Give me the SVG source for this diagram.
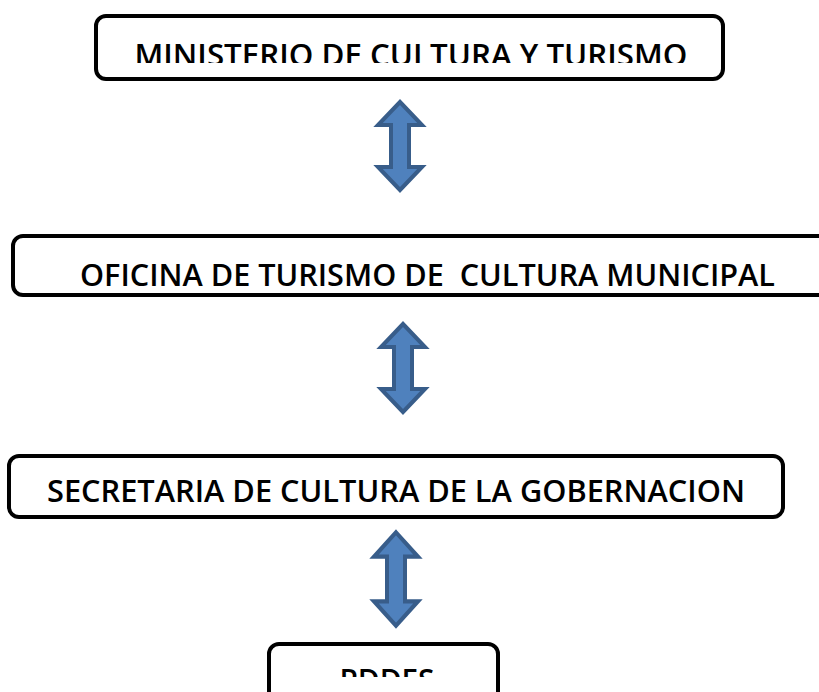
<svg xmlns="http://www.w3.org/2000/svg" width="819" height="692" viewBox="0 0 819 692">
<defs>
<style>
.box{fill:#fff;stroke:#000;stroke-width:4}
.lbl{font-family:"Open Sans","Liberation Sans",sans-serif;font-weight:600;font-size:31px;fill:#000}
.arr{fill:#4F81BD;stroke:#385D8A;stroke-width:4;stroke-linejoin:miter}
</style>
<clipPath id="c1"><rect x="96" y="16" width="627" height="47"/></clipPath>
<clipPath id="c4"><rect x="269" y="644" width="229" height="33"/></clipPath>
<path id="dbl" d="M0,-44 L22,-21 L9,-21 L9,21 L22,21 L0,44 L-22,21 L-9,21 L-9,-21 L-22,-21 Z"/>
</defs>
<rect width="819" height="692" fill="#fff"/>
<g id="node-ministerio">
<rect class="box" x="96" y="16" width="627" height="63" rx="10"/>
<text class="lbl" x="411" y="66" text-anchor="middle" textLength="553" lengthAdjust="spacingAndGlyphs" clip-path="url(#c1)">MINISTERIO DE CULTURA Y TURISMO</text>
</g>
<g id="node-oficina">
<rect class="box" x="13" y="236" width="830" height="59" rx="10"/>
<text class="lbl" x="80" y="286" textLength="695" lengthAdjust="spacingAndGlyphs" xml:space="preserve">OFICINA DE TURISMO DE  CULTURA MUNICIPAL</text>
</g>
<g id="node-secretaria">
<rect class="box" x="9" y="456" width="774" height="61" rx="10"/>
<text class="lbl" x="47" y="502" textLength="698" lengthAdjust="spacingAndGlyphs">SECRETARIA DE CULTURA DE LA GOBERNACION</text>
</g>
<g id="node-pddes">
<rect class="box" x="269" y="644" width="229" height="60" rx="10"/>
<text class="lbl" x="387" y="691" text-anchor="middle" textLength="95" lengthAdjust="spacingAndGlyphs" clip-path="url(#c4)">PDDES</text>
</g>
<g id="connectors">
<use href="#dbl" class="arr" transform="translate(400,146)"/>
<use href="#dbl" class="arr" transform="translate(403,368)"/>
<use href="#dbl" class="arr" transform="translate(396,579) scale(1,1.06)"/>
</g>
</svg>
